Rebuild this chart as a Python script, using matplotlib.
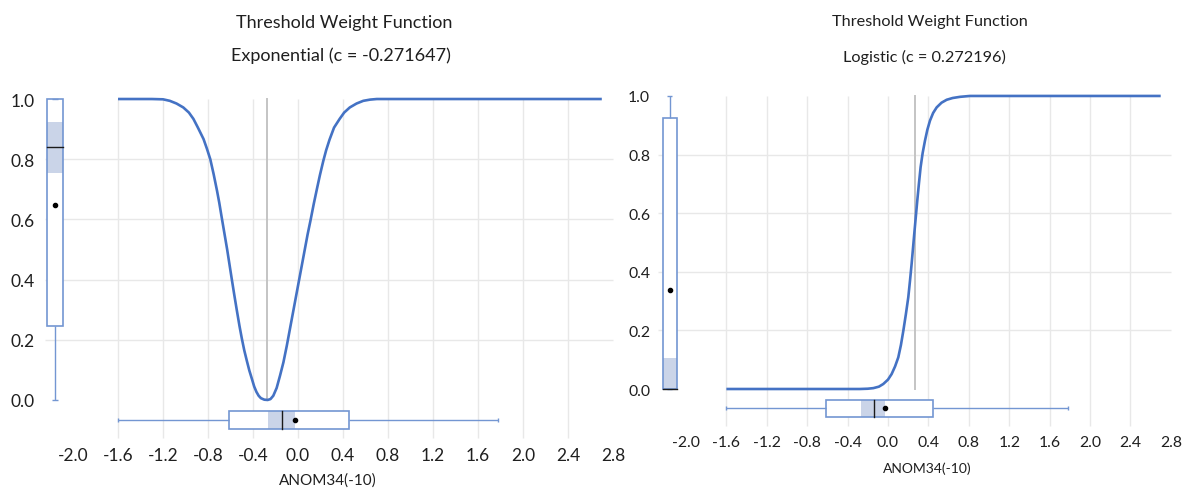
import matplotlib
matplotlib.use("Agg")
import matplotlib.pyplot as plt
from matplotlib.patches import Rectangle

plt.rcParams['font.family'] = ['Lato', 'DejaVu Sans']
plt.rcParams['axes.unicode_minus'] = False

# ---- data ----
# exponential weight function, c = -0.271647
c_exp = -0.271647
x_exp = [-1.6, -1.3, -1.2, -1.14, -1.08, -1.02, -0.97, -0.93, -0.89, -0.84, -0.81,
         -0.78, -0.75, -0.72, -0.70, -0.68, -0.655, -0.63, -0.61, -0.59, -0.567,
         -0.545, -0.52, -0.50, -0.478, -0.455, -0.433, -0.41, -0.39, -0.37, -0.35,
         -0.33, -0.30, -0.27, -0.245, -0.22, -0.19, -0.16, -0.13, -0.10, -0.07,
         -0.04, -0.015, 0.01, 0.035, 0.06, 0.085, 0.11, 0.14, 0.17, 0.195, 0.225,
         0.25, 0.28, 0.32, 0.37, 0.41, 0.46, 0.52, 0.58, 0.64, 0.70, 2.7]
y_exp = [1.0, 1.0, 0.999, 0.994, 0.985, 0.972, 0.955, 0.934, 0.905, 0.867, 0.835,
         0.80, 0.75, 0.695, 0.655, 0.61, 0.555, 0.50, 0.452, 0.404, 0.35,
         0.30, 0.245, 0.205, 0.165, 0.13, 0.098, 0.07, 0.045, 0.027, 0.014,
         0.006, 0.001, 0.0, 0.003, 0.014, 0.04, 0.081, 0.125, 0.18, 0.24,
         0.30, 0.35, 0.40, 0.45, 0.50, 0.55, 0.595, 0.652, 0.705, 0.748, 0.795,
         0.83, 0.865, 0.905, 0.934, 0.955, 0.972, 0.985, 0.994, 0.998, 1.0, 1.0]

# logistic weight function, c = 0.272196
c_log = 0.272196
x_log = [-1.6, -0.6, -0.28, -0.2, -0.145, -0.09, -0.047, 0.0, 0.036, 0.07, 0.102,
         0.128, 0.152, 0.177, 0.201, 0.218, 0.234, 0.247, 0.26, 0.275, 0.29,
         0.306, 0.323, 0.343, 0.366, 0.39, 0.416, 0.447, 0.482, 0.53, 0.581,
         0.64, 0.713, 0.81, 2.7]
y_log = [0.0, 0.0, 0.0, 0.001, 0.003, 0.008, 0.017, 0.032, 0.051, 0.077, 0.108,
         0.15, 0.199, 0.255, 0.313, 0.37, 0.427, 0.478, 0.529, 0.586, 0.643,
         0.70, 0.757, 0.805, 0.847, 0.885, 0.916, 0.942, 0.961, 0.977, 0.987,
         0.993, 0.997, 1.0, 1.0]

# box plot stats: whislo, q1, med, q3, whishi, mean, ci_lo, ci_hi
w_box_exp = [0.0, 0.247, 0.84, 1.0, 1.0, 0.649, 0.753, 0.925]
w_box_log = [0.0, 0.0, 0.0, 0.924, 1.0, 0.339, 0.0, 0.105]
x_box = [-1.6, -0.61, -0.14, 0.45, 1.78, -0.025, -0.27, -0.03]

x_ticks = [-2.0, -1.6, -1.2, -0.8, -0.4, 0.0, 0.4, 0.8, 1.2, 1.6, 2.0, 2.4, 2.8]
y_ticks = [0.0, 0.2, 0.4, 0.6, 0.8, 1.0]
x_grid = [-1.6, -1.2, -0.8, -0.4, 0.0, 0.4, 0.8, 1.2, 1.6, 2.0, 2.4]
y_grid = [0.2, 0.4, 0.6, 0.8]

BLUE = '#4472C4'
BOXC = '#7396D2'
SHADE = '#CAD4E8'
GRID = '#E8E8E8'
TXT = '#1f1f1f'

W, H = 1183, 489
fig = plt.figure(figsize=(W / 100, H / 100), dpi=100)


def add_ax(x0, y0, x1, y1):
    return fig.add_axes([x0 / W, 1 - y1 / H, (x1 - x0) / W, (y1 - y0) / H])


def draw_box(ax, st, pos, width, vertical, cap):
    lo, q1, med, q3, hi, mean, cl, ch = st
    kw = dict(color=BOXC, lw=1.0, zorder=4, solid_capstyle='butt')
    if vertical:
        ax.add_patch(Rectangle((pos - width / 2, q1), width, q3 - q1, fc='white', ec='none', zorder=3))
        ax.add_patch(Rectangle((pos - width / 2, cl), width, ch - cl, fc=SHADE, ec='none', zorder=3))
        ax.add_patch(Rectangle((pos - width / 2, q1), width, q3 - q1, fc='none', ec=BOXC, lw=1.2, zorder=4))
        ax.plot([pos, pos], [lo, q1], **kw)
        ax.plot([pos, pos], [q3, hi], **kw)
        ax.plot([pos - cap, pos + cap], [lo, lo], **kw)
        ax.plot([pos - cap, pos + cap], [hi, hi], **kw)
        ax.plot([pos - width / 2, pos + width / 2], [med, med], color='#1a1a1a', lw=1.0, zorder=5)
        ax.plot([pos], [mean], 'o', ms=3, color='black', zorder=6)
    else:
        ax.add_patch(Rectangle((q1, pos - width / 2), q3 - q1, width, fc='white', ec='none', zorder=3))
        ax.add_patch(Rectangle((cl, pos - width / 2), ch - cl, width, fc=SHADE, ec='none', zorder=3))
        ax.add_patch(Rectangle((q1, pos - width / 2), q3 - q1, width, fc='none', ec=BOXC, lw=1.2, zorder=4))
        ax.plot([lo, q1], [pos, pos], **kw)
        ax.plot([q3, hi], [pos, pos], **kw)
        ax.plot([lo, lo], [pos - cap, pos + cap], **kw)
        ax.plot([hi, hi], [pos - cap, pos + cap], **kw)
        ax.plot([med, med], [pos - width / 2, pos + width / 2], color='#1a1a1a', lw=1.0, zorder=5)
        ax.plot([mean], [pos], 'o', ms=3, color='black', zorder=6)


def panel(ax, xs, ys, c, wbox, xlim, tick_fs, ypad, xpad):
    ax.set_xlim(*xlim)
    ax.set_ylim(-0.13, 1.02)
    for s in ax.spines.values():
        s.set_visible(False)
    ax.hlines(y_grid, xlim[0], 2.8, color=GRID, lw=1.0, zorder=1)
    ax.vlines(x_grid, -0.125, 1.0, color=GRID, lw=1.0, zorder=1)
    ax.plot([c, c], [0.0, 1.0], color='#C4C4C4', lw=1.4, zorder=2)
    ax.plot(xs, ys, color=BLUE, lw=1.9, zorder=7, solid_capstyle='butt', solid_joinstyle='round')
    draw_box(ax, wbox, -2.16, 0.142, True, 0.025)
    draw_box(ax, x_box, -0.066, 0.06, False, 0.007)
    ax.set_xticks(x_ticks)
    ax.set_xticklabels(['%.1f' % v for v in x_ticks])
    ax.set_yticks(y_ticks)
    ax.set_yticklabels(['%.1f' % v for v in y_ticks])
    ax.tick_params(axis='both', length=0, labelsize=tick_fs, colors=TXT)
    ax.tick_params(axis='y', pad=ypad)
    ax.tick_params(axis='x', pad=xpad)


# left panel: exponential
ax1 = add_ax(44.9, 94.0, 624.3, 440.1)
panel(ax1, x_exp, y_exp, c_exp, w_box_exp, (-2.25, 2.9), 12.5, 7.5, 5.5)
fig.text(344 / W, 1 - 23 / H, 'Threshold Weight Function', ha='center', va='center', fontsize=13, color=TXT)
fig.text(341 / W, 1 - 56 / H, 'Exponential (c = -0.271647)', ha='center', va='center', fontsize=13, color=TXT)
fig.text(328 / W, 1 - 481 / H, 'ANOM34(-10)', ha='center', va='center', fontsize=11, color=TXT)

# right panel: logistic
ax2 = add_ax(657.7, 91.1, 1180.9, 428.1)
panel(ax2, x_log, y_log, c_log, w_box_log, (-2.28, 2.9), 11.3, 5.5, 6.0)
fig.text(930 / W, 1 - 22 / H, 'Threshold Weight Function', ha='center', va='center', fontsize=11.7, color=TXT)
fig.text(924 / W, 1 - 57 / H, 'Logistic (c = 0.272196)', ha='center', va='center', fontsize=11.7, color=TXT)
fig.text(927 / W, 1 - 469 / H, 'ANOM34(-10)', ha='center', va='center', fontsize=10, color=TXT)

fig.savefig('out.png', dpi=100)
